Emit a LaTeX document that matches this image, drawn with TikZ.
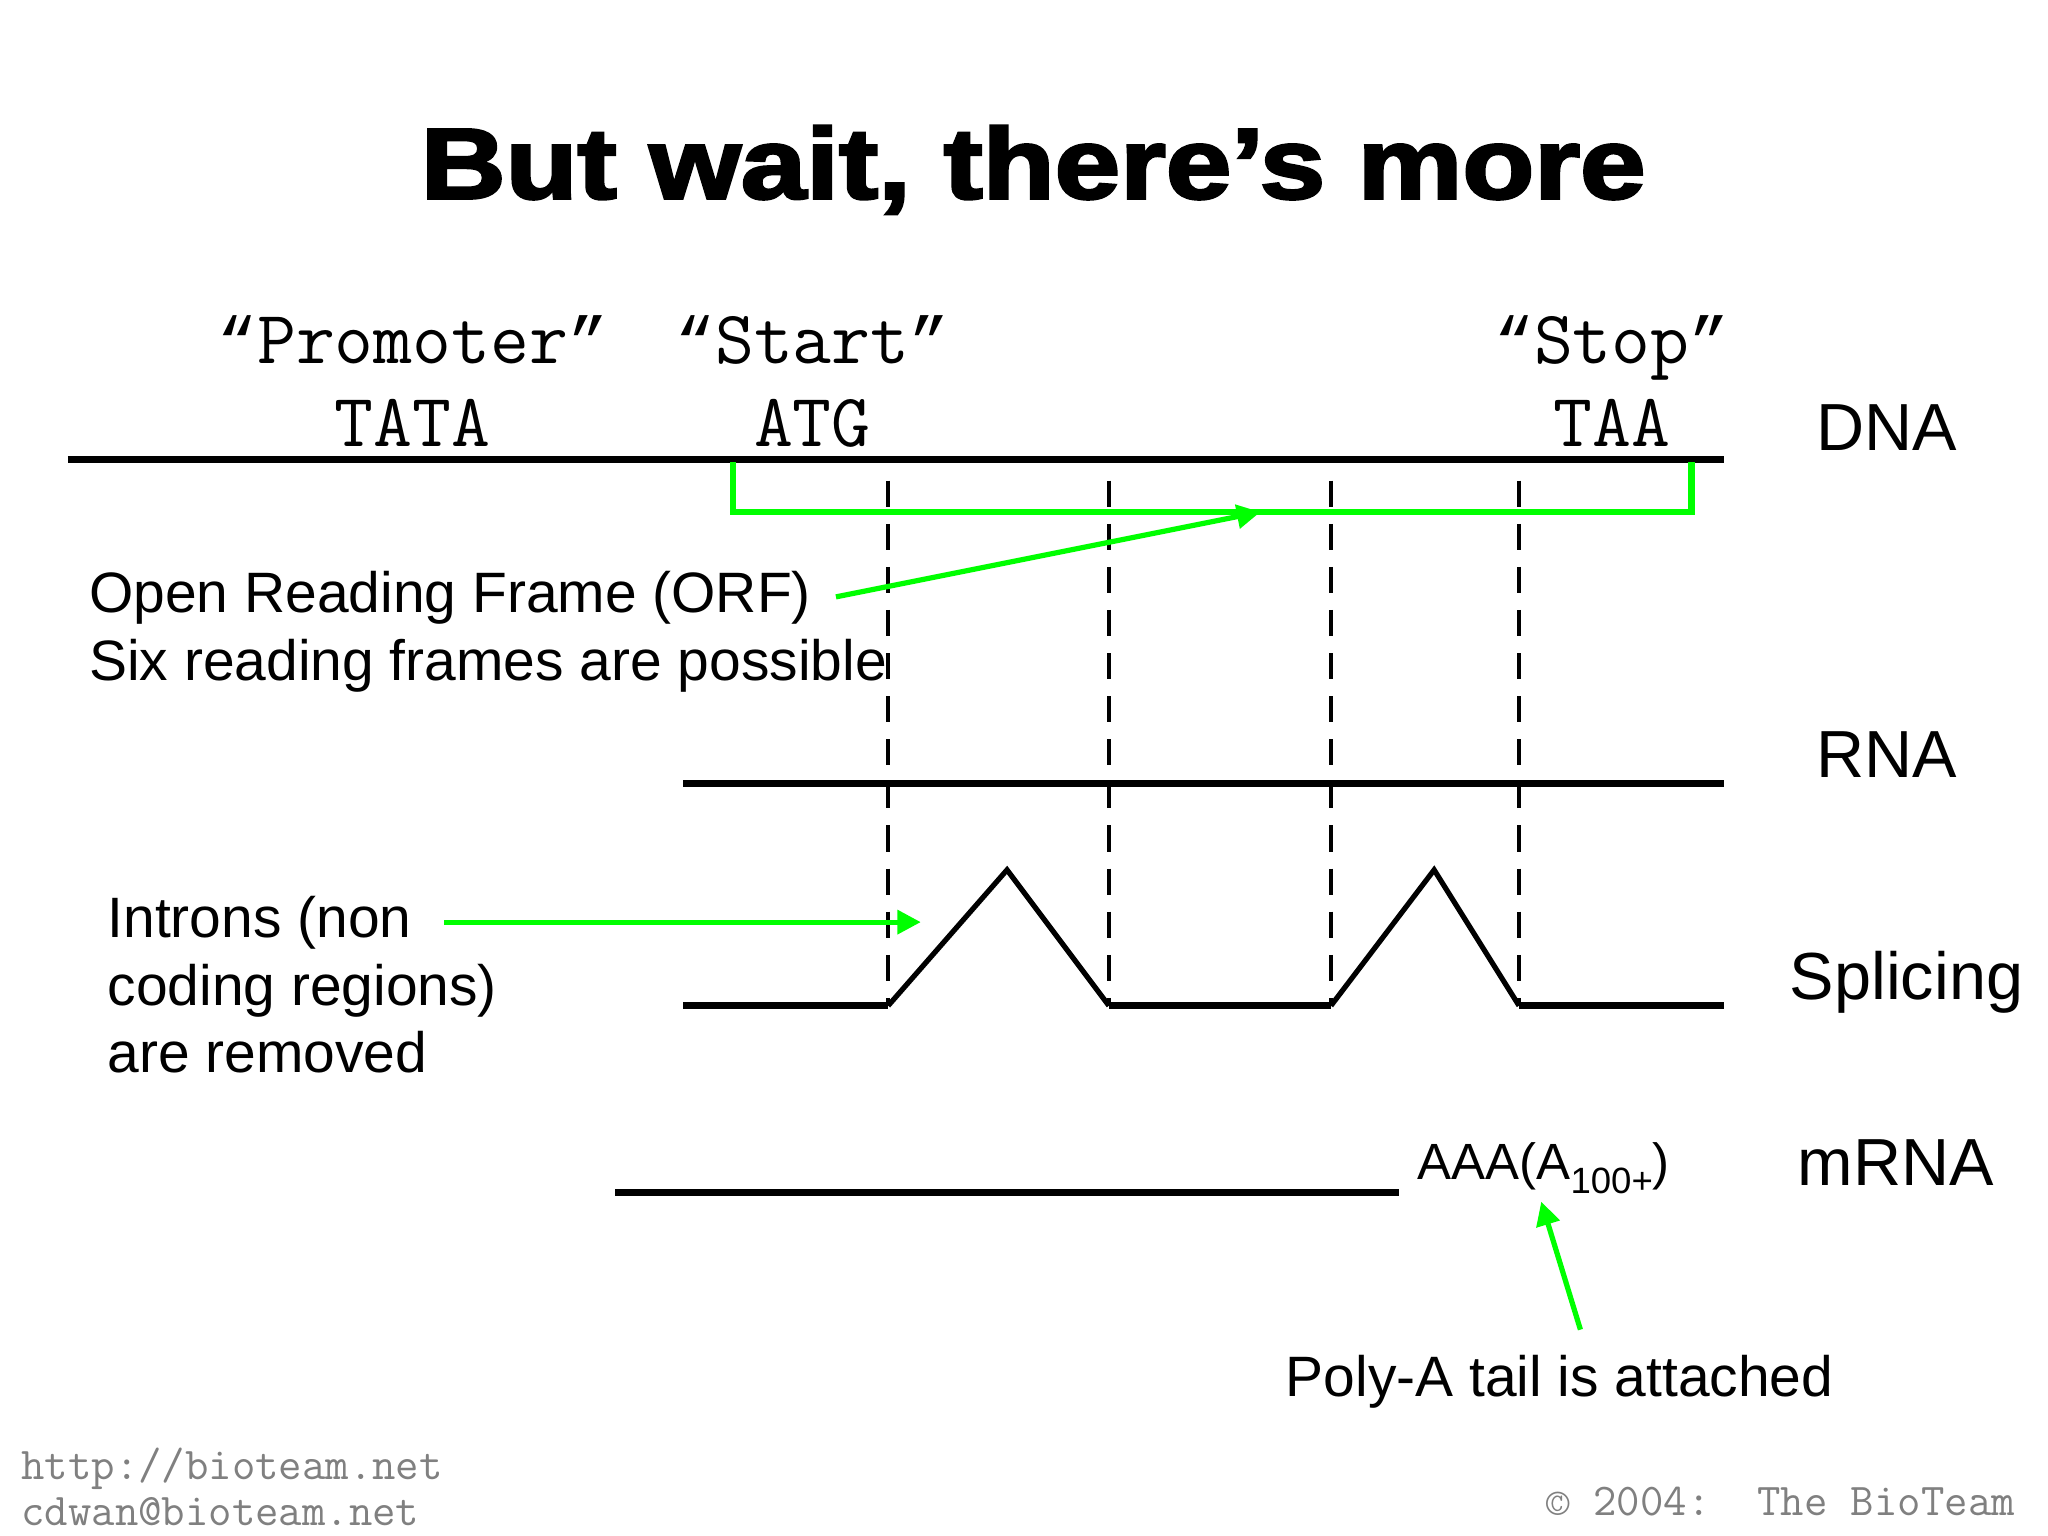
\documentclass[tikz,border=0pt]{standalone}
\usepackage{fontspec}
\setmainfont{Liberation Sans}
\newfontfamily\libmono{Liberation Mono}
\newfontfamily\titlefont[BoldFeatures={FakeBold=2.6}]{Liberation Sans}
\usetikzlibrary{arrows.meta}
\definecolor{orfgreen}{RGB}{0,255,0}
\definecolor{footgray}{RGB}{128,128,128}
\newcommand{\myopenq}{{\libmono\fontsize{25.3}{34}\selectfont “}}
\newcommand{\mycloseq}{{\libmono\fontsize{25.3}{34}\selectfont ”}}
\begin{document}
\begin{tikzpicture}[x=0.5pt,y=-0.5pt,
  lbl/.style={inner sep=0pt, font=\fontsize{21.8}{26}\selectfont},
  big/.style={inner sep=0pt, font=\fontsize{25.5}{30}\selectfont},
  mono/.style={inner sep=0pt, font=\ttfamily\fontsize{28.9}{34}\selectfont},
  foot/.style={inner sep=0pt, text=footgray, font=\ttfamily\fontsize{17.4}{20}\selectfont},
  strand/.style={line width=2.6pt},
  slope/.style={line width=2pt, line join=miter},
  cut/.style={line width=1.6pt, dash pattern=on 10pt off 6.5pt},
  orf/.style={draw=orfgreen, line width=2.4pt},
  ptr/.style={draw=orfgreen, line width=2pt, -{Triangle[length=9pt,width=9pt]}}
]
\path[fill=white] (0,0) rectangle (1568,1176);
\useasboundingbox (0,0) rectangle (1568,1176);

% title
\node[inner sep=0pt, anchor=base] (title) at (791,152)
  {\scalebox{1.17}[1]{\titlefont\bfseries\fontsize{38.5}{44}\selectfont But wait, there’s more}};

% sequence labels
\node[mono, anchor=base] (promoter) at (316,278) {\myopenq Promoter\mycloseq};
\node[mono, anchor=base] (start) at (622,278) {\myopenq Start\mycloseq};
\node[mono, anchor=base] (stop) at (1234,278) {\myopenq Stop\mycloseq};
\node[mono, anchor=base] (tata) at (316,342) {TATA};
\node[mono, anchor=base] (atg) at (622,342) {ATG};
\node[mono, anchor=base] (taa) at (1234,342) {TAA};

% row labels
\node[big, anchor=base west] (dna) at (1390,345) {DNA};
\node[big, anchor=base west] (rna) at (1390,595) {RNA};
\node[big, anchor=base west] (splicing) at (1370,765) {Splicing};
\node[big, anchor=base west] (mrna) at (1376,908) {mRNA};

% strands
\coordinate (dnaL) at (52,352);
\coordinate (dnaR) at (1320,352);
\draw[strand] (dnaL) -- (dnaR);
\coordinate (rnaL) at (523,600);
\coordinate (rnaR) at (1320,600);
\draw[strand] (rnaL) -- (rnaR);
\coordinate (mrnaL) at (471,913);
\coordinate (mrnaR) at (1071,913);
\draw[strand] (mrnaL) -- (mrnaR);

% splicing
\coordinate (s0) at (523,770);
\coordinate (s1) at (680,770);
\coordinate (p1) at (771,666);
\coordinate (s2) at (849,770);
\coordinate (s3) at (1019,770);
\coordinate (p2) at (1098,666);
\coordinate (s4) at (1163,770);
\coordinate (s5) at (1320,770);
\draw[strand] (s0) -- (s1);
\draw[strand] (s2) -- (s3);
\draw[strand] (s4) -- (s5);
\draw[slope] (s1) -- (p1) -- (s2);
\draw[slope] (s3) -- (p2) -- (s4);

% dashed exon boundaries
\foreach \xx/\nm in {680/a,849/b,1019/c,1163/d}{
  \coordinate (cutT\nm) at (\xx,368);
  \coordinate (cutB\nm) at (\xx,770);
  \draw[cut] (cutT\nm) -- (cutB\nm);
}

% ORF bracket
\coordinate (orfL) at (561,354);
\coordinate (orfBL) at (561,392);
\coordinate (orfBR) at (1295,392);
\coordinate (orfR) at (1295,354);
\draw[orf] (orfL) -- (orfBL) -- (orfBR) -- (orfR);

% ORF label and pointer
\node[lbl, anchor=base west] (orftxt) at (68,469) {Open Reading Frame (ORF)};
\node[lbl, anchor=base west] (sixtxt) at (68,521) {Six reading frames are possible};
\coordinate (orfTail) at (640,457);
\coordinate (orfHead) at (965,392);
\draw[ptr] (orfTail) -- (orfHead);

% introns label and pointer
\node[lbl, anchor=base west] (intr1) at (82,718) {Introns (non};
\node[lbl, anchor=base west] (intr2) at (82,770) {coding regions)};
\node[lbl, anchor=base west] (intr3) at (82,821) {are removed};
\coordinate (inTail) at (340,706);
\coordinate (inHead) at (705,706);
\draw[ptr] (inTail) -- (inHead);

% poly-A
\node[inner sep=0pt, anchor=base west, font=\fontsize{19.5}{24}\selectfont] (aaa) at (1085,903)
  {AAA(A\raisebox{-0.28em}{\fontsize{14}{16}\selectfont 100+})};
\node[lbl, anchor=base west] (polya) at (984,1069) {Poly-A tail is attached};
\coordinate (paTail) at (1210,1018);
\coordinate (paHead) at (1180,920);
\draw[ptr] (paTail) -- (paHead);

% footer
\node[foot, anchor=base west] (url) at (16,1133) {http://bioteam.net};
\node[foot, anchor=base west] (mail) at (16,1168) {cdwan@bioteam.net};
\node[foot, anchor=base east] (copy) at (1543,1160) {© 2004:\ \ The BioTeam};
\end{tikzpicture}
\end{document}
